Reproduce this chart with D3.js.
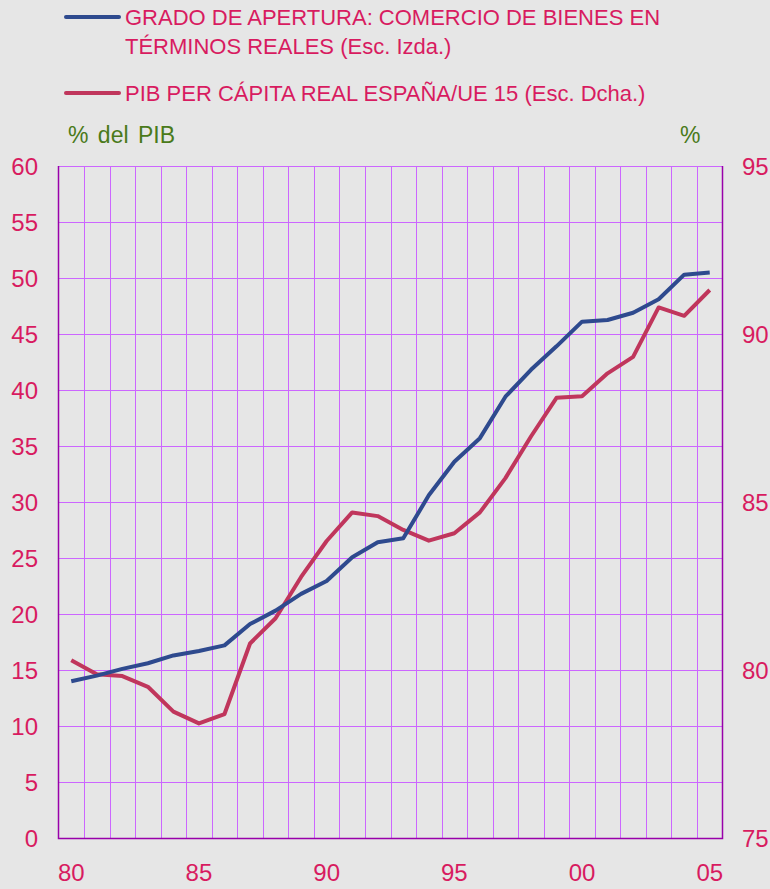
<!DOCTYPE html>
<html>
<head>
<meta charset="utf-8">
<script src="https://cdn.jsdelivr.net/npm/d3@7"></script>
<style>
  body { margin: 0; background: #e6e6e6; }
  text { font-family: "Liberation Sans", Arial, sans-serif; }
</style>
</head>
<body>
<svg id="chart" width="770" height="889"></svg>
<script>
// data
const years = d3.range(1980, 2006)
const apertura = [14.0, 14.5, 15.1, 15.6, 16.3, 16.7, 17.2, 19.1, 20.3, 21.8,
  22.95, 25.06, 26.4, 26.76, 30.6, 33.6, 35.7, 39.4, 41.8, 43.9,
  46.1, 46.25, 46.9, 48.1, 50.3, 50.5]
const pibRatio = [80.29, 79.87, 79.82, 79.5, 78.76, 78.41, 78.69, 80.79, 81.54, 82.77,
  83.84, 84.69, 84.58, 84.17, 83.85, 84.07, 84.69, 85.71, 86.95, 88.1,
  88.15, 88.83, 89.32, 90.79, 90.54, 91.31]
const leftTicks = [0, 5, 10, 15, 20, 25, 30, 35, 40, 45, 50, 55, 60]
const rightTicks = [75, 80, 85, 90, 95]
const xLabels = {1980: "80", 1985: "85", 1990: "90", 1995: "95", 2000: "00", 2005: "05"}

const pink = "#d81b60", grid = "#cc66ff", frame = "#9900aa"
const blue = "#2e4a8e", red = "#c0365c"

const svg = d3.select("#chart")
svg.append("rect").attr("width", 770).attr("height", 889).attr("fill", "#e6e6e6")

let x = d3.scaleBand().domain(years).range([58.5, 722.5]).padding(0)
let yL = d3.scaleLinear().domain([0, 60]).range([838, 166])
let yR = d3.scaleLinear().domain([75, 95]).range([838, 166])
let cx = d => x(d) + x.bandwidth() / 2

// grid
let g = svg.append("g")
g.selectAll("line.v")
  .data(years.slice(1)).enter()
  .append("line")
  .attr("x1", d => Math.round(x(d)) + 0.5).attr("x2", d => Math.round(x(d)) + 0.5)
  .attr("y1", 166).attr("y2", 838)
  .attr("stroke", grid).attr("stroke-width", 1)
g.selectAll("line.h")
  .data(leftTicks.slice(1)).enter()
  .append("line")
  .attr("x1", 58.5).attr("x2", 722.5)
  .attr("y1", d => Math.round(yL(d)) + 0.5).attr("y2", d => Math.round(yL(d)) + 0.5)
  .attr("stroke", grid).attr("stroke-width", 1)

// frame
svg.append("path")
  .attr("d", "M58.5,166V838.5H722.5V166")
  .attr("fill", "none").attr("stroke", frame).attr("stroke-width", 1.5)

// lines
let lineL = d3.line().x((d, i) => cx(years[i])).y(d => yL(d))
let lineR = d3.line().x((d, i) => cx(years[i])).y(d => yR(d))
svg.append("path").attr("d", lineR(pibRatio))
  .attr("fill", "none").attr("stroke", red).attr("stroke-width", 4).attr("stroke-linejoin", "round")
svg.append("path").attr("d", lineL(apertura))
  .attr("fill", "none").attr("stroke", blue).attr("stroke-width", 4).attr("stroke-linejoin", "round")

// tick labels
svg.append("g").selectAll("text")
  .data(leftTicks).enter()
  .append("text")
  .attr("x", 38).attr("y", d => yL(d) + 9)
  .attr("text-anchor", "end").attr("font-size", 24).attr("fill", pink)
  .text(d => d)
svg.append("g").selectAll("text")
  .data(rightTicks).enter()
  .append("text")
  .attr("x", 742).attr("y", d => yR(d) + 9)
  .attr("font-size", 24).attr("fill", pink)
  .text(d => d)
svg.append("g").selectAll("text")
  .data(years.filter(d => xLabels[d])).enter()
  .append("text")
  .attr("x", d => cx(d)).attr("y", 881)
  .attr("text-anchor", "middle").attr("font-size", 24).attr("fill", pink)
  .text(d => xLabels[d])

// axis titles
svg.append("text").attr("x", 68).attr("y", 143).attr("font-size", 23)
  .attr("fill", "#4a7a1a").attr("word-spacing", 3).text("% del PIB")
svg.append("text").attr("x", 680).attr("y", 143).attr("font-size", 23)
  .attr("fill", "#4a7a1a").text("%")

// legend
let legend = [
  {color: blue, y: 17, lines: ["GRADO DE APERTURA: COMERCIO DE BIENES EN", "TÉRMINOS REALES (Esc. Izda.)"]},
  {color: red, y: 93, lines: ["PIB PER CÁPITA REAL ESPAÑA/UE 15 (Esc. Dcha.)"]}
]
legend.forEach(l => {
  svg.append("line").attr("x1", 66).attr("x2", 119).attr("y1", l.y).attr("y2", l.y)
    .attr("stroke", l.color).attr("stroke-width", 4).attr("stroke-linecap", "round")
  l.lines.forEach((t, i) => {
    svg.append("text").attr("x", 125).attr("y", l.y + 8 + i * 29)
      .attr("font-size", 22).attr("fill", pink).text(t)
  })
})
</script>
</body>
</html>
